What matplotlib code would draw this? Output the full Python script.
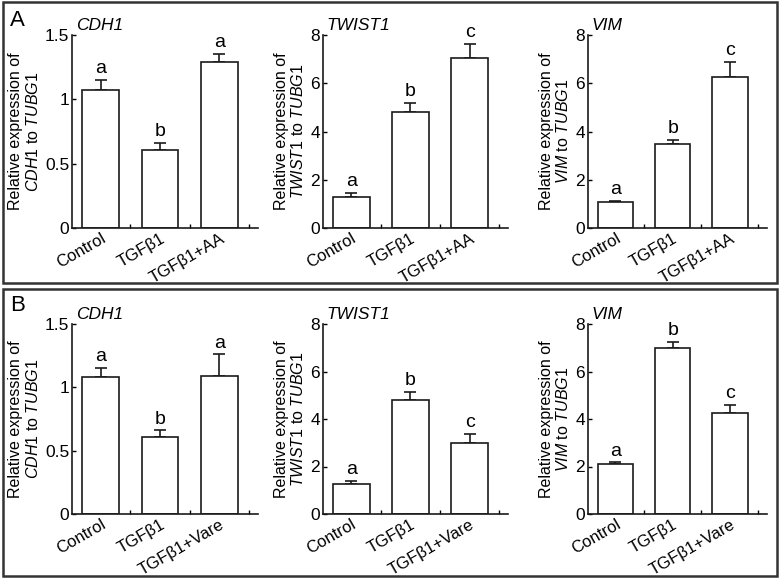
import matplotlib
matplotlib.use("Agg")
import matplotlib.pyplot as plt
from matplotlib.patches import Rectangle
from matplotlib.ticker import FixedLocator

plt.rcParams['font.family'] = ['Liberation Sans', 'DejaVu Sans']
plt.rcParams['mathtext.fontset'] = 'custom'
plt.rcParams['mathtext.rm'] = 'Liberation Sans'
plt.rcParams['mathtext.it'] = 'Liberation Sans:italic'

# ---------------- data ----------------
cats_A = ["Control", "TGFβ1", "TGFβ1+AA"]
cats_B = ["Control", "TGFβ1", "TGFβ1+Vare"]
genes = ["CDH1", "TWIST1", "VIM"]

A_cdh1 = [1.07, 0.61, 1.29]
A_cdh1_err = [0.08, 0.05, 0.065]
A_cdh1_sig = ["a", "b", "a"]
A_twist1 = [1.27, 4.80, 7.03]
A_twist1_err = [0.17, 0.37, 0.60]
A_twist1_sig = ["a", "b", "c"]
A_vim = [1.06, 3.48, 6.27]
A_vim_err = [0.07, 0.16, 0.62]
A_vim_sig = ["a", "b", "c"]

B_cdh1 = [1.08, 0.61, 1.09]
B_cdh1_err = [0.075, 0.05, 0.17]
B_cdh1_sig = ["a", "b", "a"]
B_twist1 = [1.26, 4.79, 3.01]
B_twist1_err = [0.15, 0.36, 0.35]
B_twist1_sig = ["a", "b", "c"]
B_vim = [2.09, 6.97, 4.27]
B_vim_err = [0.08, 0.28, 0.31]
B_vim_sig = ["a", "b", "c"]

yticks_cdh1 = [0, 0.5, 1, 1.5]
yticklabels_cdh1 = ["0", "0.5", "1", "1.5"]
yticks_other = [0, 2, 4, 6, 8]
yticklabels_other = ["0", "2", "4", "6", "8"]

W, H = 780, 579
fig = plt.figure(figsize=(W / 100, H / 100), dpi=100)

def px_axes(l, r, t, b):
    return fig.add_axes([l / W, (H - b) / H, (r - l) / W, (b - t) / H])

def draw(ax, cats, vals, errs, sigs, gene, yticks, yticklabels):
    x = list(range(len(cats)))
    ax.bar(x, vals, width=0.62, color="white", edgecolor="#1a1a1a", linewidth=1.2, zorder=2)
    ax.errorbar(x, vals, yerr=[[0] * len(errs), errs], fmt="none", ecolor="#1a1a1a",
                elinewidth=1.2, capsize=4.5, capthick=1.2, zorder=1)
    for xi, v, e, s in zip(x, vals, errs, sigs):
        ax.annotate(s, (xi, v + e), xytext=(0, 2), textcoords="offset points",
                    ha="center", va="bottom", fontsize=14)
    ax.set_xlim(-0.48, 2.65)
    ax.set_ylim(yticks[0], yticks[-1])
    ax.set_yticks(yticks)
    ax.set_yticklabels(yticklabels, fontsize=12.5)
    ax.set_xticks(x)
    ax.set_xticklabels(cats, rotation=30, ha="right", rotation_mode="anchor", fontsize=12)
    ax.xaxis.set_minor_locator(FixedLocator([0.5, 1.5, 2.5]))
    ax.tick_params(axis="x", which="major", length=0, pad=2)
    ax.tick_params(axis="x", which="minor", direction="in", length=3, width=1)
    ax.tick_params(axis="y", direction="in", length=3, width=1, pad=2)
    for sp in ["top", "right"]:
        ax.spines[sp].set_visible(False)
    for sp in ["left", "bottom"]:
        ax.spines[sp].set_linewidth(1.2)
        ax.spines[sp].set_color("#1a1a1a")
    ax.set_ylabel("Relative expression of\n$\\mathit{%s}$ to $\\mathit{TUBG1}$" % gene,
                  fontsize=11.5, labelpad=3, linespacing=1.1)
    ax.text(0.02, 1.01, gene, transform=ax.transAxes, fontsize=12.5, style="italic",
            ha="left", va="bottom")

# Panel A
axA1 = px_axes(72, 258, 35, 228)
draw(axA1, cats_A, A_cdh1, A_cdh1_err, A_cdh1_sig, genes[0], yticks_cdh1, yticklabels_cdh1)
axA2 = px_axes(323, 508, 35, 228)
draw(axA2, cats_A, A_twist1, A_twist1_err, A_twist1_sig, genes[1], yticks_other, yticklabels_other)
axA3 = px_axes(588, 767, 35, 228)
draw(axA3, cats_A, A_vim, A_vim_err, A_vim_sig, genes[2], yticks_other, yticklabels_other)

# Panel B
axB1 = px_axes(72, 258, 324, 514)
draw(axB1, cats_B, B_cdh1, B_cdh1_err, B_cdh1_sig, genes[0], yticks_cdh1, yticklabels_cdh1)
axB2 = px_axes(323, 508, 324, 514)
draw(axB2, cats_B, B_twist1, B_twist1_err, B_twist1_sig, genes[1], yticks_other, yticklabels_other)
axB3 = px_axes(588, 767, 324, 514)
draw(axB3, cats_B, B_vim, B_vim_err, B_vim_sig, genes[2], yticks_other, yticklabels_other)

# panel frames
for (t, b) in [(2, 283), (289, 576)]:
    fig.add_artist(Rectangle((3 / W, (H - b) / H), 774 / W, (b - t) / H,
                             transform=fig.transFigure, fill=False,
                             edgecolor="#333333", linewidth=1.8))

fig.text(10 / W, 1 - 26 / H, "A", fontsize=16, ha="left", va="baseline")
fig.text(10 / W, 1 - 311 / H, "B", fontsize=16, ha="left", va="baseline")

fig.savefig("out.png", dpi=100)
